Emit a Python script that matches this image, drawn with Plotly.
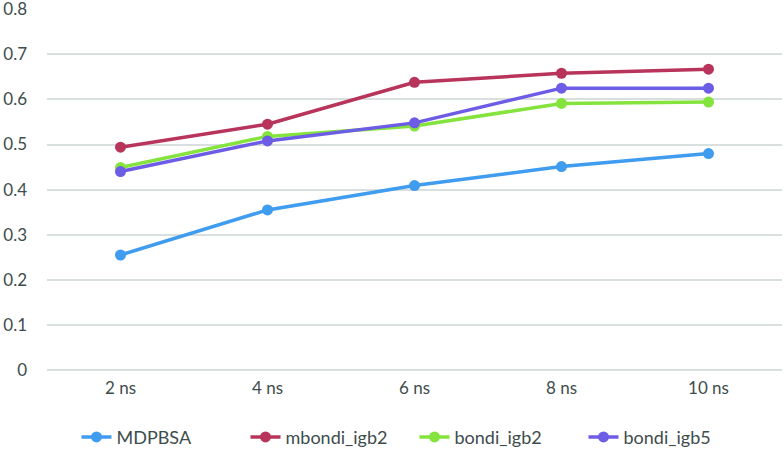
import plotly.graph_objects as go

# ---- data ----
tijden = ["2 ns", "4 ns", "6 ns", "8 ns", "10 ns"]
mdpbsa = [0.255, 0.355, 0.409, 0.451, 0.480]
mbondi_igb2 = [0.494, 0.545, 0.638, 0.658, 0.667]
bondi_igb2 = [0.449, 0.518, 0.541, 0.591, 0.594]
bondi_igb5 = [0.440, 0.508, 0.548, 0.625, 0.625]

y_ticks = [0, 0.1, 0.2, 0.3, 0.4, 0.5, 0.6, 0.7, 0.8]
y_labels = ["0", "0.1", "0.2", "0.3", "0.4", "0.5", "0.6", "0.7", "0.8"]

series = [
    ("MDPBSA", mdpbsa, "#3f9cee"),
    ("mbondi_igb2", mbondi_igb2, "#b8345a"),
    ("bondi_igb2", bondi_igb2, "#84e33c"),
    ("bondi_igb5", bondi_igb5, "#6c5ce6"),
]

fig = go.Figure()
for naam, waarden, kleur in series:
    fig.add_trace(go.Scatter(
        x=tijden, y=waarden, name=naam,
        mode="lines+markers",
        line=dict(color=kleur, width=3.5),
        marker=dict(color=kleur, size=11),
    ))

fig.update_layout(
    width=784, height=454,
    margin=dict(l=47, r=2, t=9, b=84, autoexpand=False),
    plot_bgcolor="white",
    paper_bgcolor="white",
    font=dict(family="Lato", size=18, color="#3e4c4c"),
    xaxis=dict(
        type="category",
        range=[-0.5, 4.5],
        showgrid=False,
        showline=False,
        ticks="",
        ticklabelstandoff=6,
        tickfont=dict(size=17),
    ),
    yaxis=dict(
        range=[0, 0.8005],
        tickvals=y_ticks,
        ticktext=y_labels,
        ticklabeloverflow="allow",
        showgrid=True,
        gridcolor="#d9dede",
        gridwidth=1.5,
        zeroline=True,
        zerolinecolor="#d9dede",
        zerolinewidth=1.5,
        ticks="",
        ticklabelstandoff=19,
        tickfont=dict(size=17),
    ),
    legend=dict(
        orientation="h",
        x=0.5, xanchor="center",
        yref="container",
        y=0.037, yanchor="middle",
        entrywidth=124,
    ),
)

# body-marge van de pagina weghalen zodat de grafiek op 0,0 begint
fig.write_html(
    "out.html",
    config={"displayModeBar": False},
    post_script="document.body.style.margin='0';",
)
